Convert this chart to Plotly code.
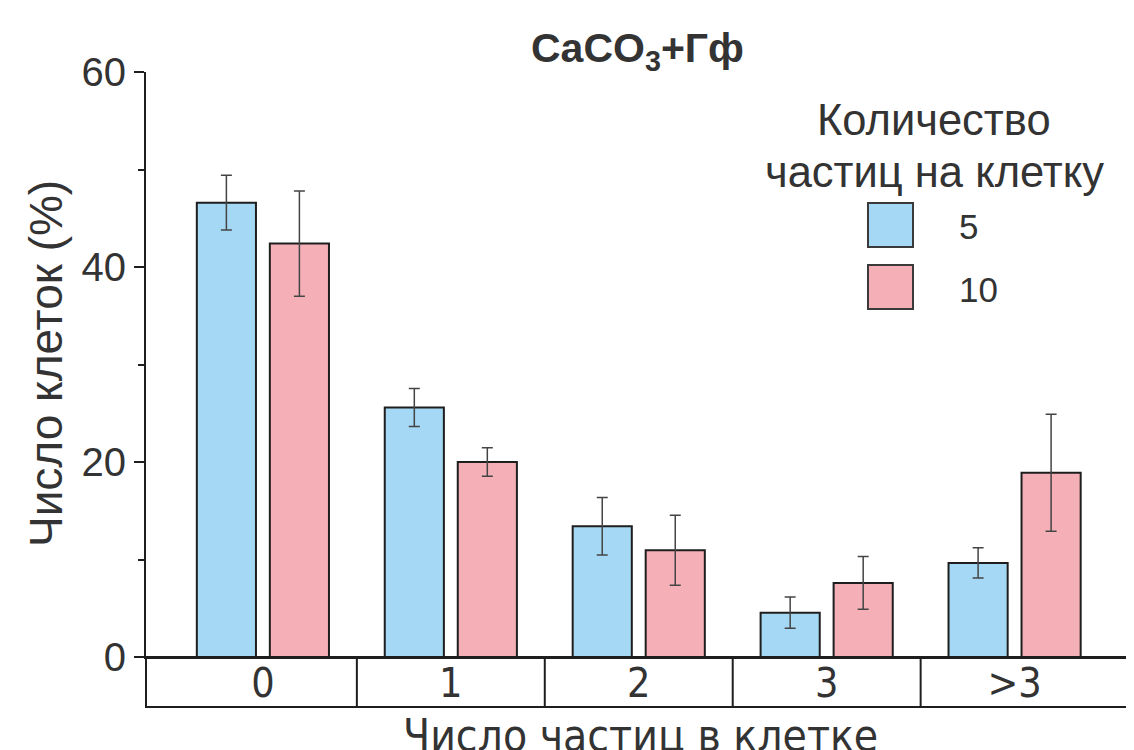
import plotly.graph_objects as go

categories = ["0", "1", "2", "3", ">3"]
series_names = ["5", "10"]
vals_5 = [46.6, 25.6, 13.4, 4.55, 9.65]
err_5 = [2.8, 1.95, 2.95, 1.6, 1.55]
vals_10 = [42.4, 20.0, 10.95, 7.6, 18.9]
err_10 = [5.4, 1.45, 3.6, 2.7, 6.0]
y_tickvals = [0, 20, 40, 60]

colors = ["#a4d8f4", "#f4b0b6"]
edge = "#1e1e1e"
txt = "#333333"

# figure is drawn with an 8px page margin; positions below are page pixels
OFF = 8
W, H = 1134, 750
L, R, T, B = 138, 9, 64, 101
PW, PH = W - L - R, H - T - B


def px(x):
    return (x - OFF - L) / PW


def py(y):
    return (H - B - (y - OFF)) / PH


NARROW = "Liberation Sans Narrow, Arial Narrow, DejaVu Sans Condensed, Liberation Sans, sans-serif"
REG = "Liberation Sans, Arial, sans-serif"

fig = go.Figure()
for name, vals, errs, col in [(series_names[0], vals_5, err_5, colors[0]),
                              (series_names[1], vals_10, err_10, colors[1])]:
    fig.add_trace(go.Bar(
        x=categories, y=vals, name=name,
        marker=dict(color=col, line=dict(color=edge, width=2)),
        error_y=dict(type="data", array=errs, visible=True,
                     color="#444444", thickness=1.5, width=5.5),
        showlegend=False,
    ))

fig.update_layout(
    width=W, height=H,
    margin=dict(l=L, r=R, t=T, b=B, autoexpand=False),
    paper_bgcolor="white", plot_bgcolor="white",
    barmode="group", bargap=0.223, bargroupgap=0.19,
    font=dict(family=REG, color=txt),
)

fig.update_yaxes(
    range=[0, 60], tickvals=y_tickvals, showgrid=False, zeroline=False,
    showline=True, linecolor=edge, linewidth=2,
    ticks="outside", ticklen=10, tickwidth=2, tickcolor=edge,
    tickfont=dict(size=40, color=txt, family=REG),
    minor=dict(tickvals=[10, 30, 50], ticks="outside", ticklen=6, tickwidth=2, tickcolor=edge),
)
fig.update_xaxes(
    range=[-0.622, 4.63], showgrid=False, zeroline=False,
    showline=True, linecolor=edge, linewidth=2, ticks="",
    ticklabelstandoff=-11,
    tickfont=dict(size=41, color=txt, family=NARROW),
)

# category box under the axis
box_bottom = py(707)
shapes = [dict(type="rect", xref="paper", yref="paper", x0=0, x1=1, y0=box_bottom, y1=0,
               line=dict(color=edge, width=2))]
for i in range(len(categories) - 1):
    shapes.append(dict(type="line", xref="x", yref="paper", x0=i + 0.5, x1=i + 0.5,
                       y0=box_bottom, y1=0, line=dict(color=edge, width=2)))

# legend swatches
for j, col in enumerate(colors):
    top = 203 + j * 62
    shapes.append(dict(type="rect", xref="paper", yref="paper",
                       x0=px(868), x1=px(913), y0=py(top + 44), y1=py(top),
                       fillcolor=col, line=dict(color="#3a3a3a", width=2)))
fig.update_layout(shapes=shapes)

ann = []
ann.append(dict(text="<b>CaCO<sub>3</sub>+Гф</b>", xref="paper", yref="paper",
                x=px(637), y=py(51), xanchor="center", yanchor="middle", showarrow=False,
                font=dict(size=41, color=txt, family=REG)))
ann.append(dict(text="Число клеток (%)", xref="paper", yref="paper", textangle=-90,
                x=px(46), y=py(364), xanchor="center", yanchor="middle", showarrow=False,
                font=dict(size=46, color=txt)))
ann.append(dict(text="Число частиц в клетке", xref="paper", yref="paper",
                x=px(640), y=py(735), xanchor="center", yanchor="middle", showarrow=False,
                font=dict(size=44, color=txt, family=NARROW)))
ann.append(dict(text="Количество", xref="paper", yref="paper",
                x=px(934), y=py(120), xanchor="center", yanchor="middle", showarrow=False,
                font=dict(size=43.5, color=txt)))
ann.append(dict(text="частиц на клетку", xref="paper", yref="paper",
                x=px(934), y=py(172), xanchor="center", yanchor="middle", showarrow=False,
                font=dict(size=43.5, color=txt)))
for j, name in enumerate(series_names):
    ann.append(dict(text=name, xref="paper", yref="paper",
                    x=px(957), y=py(227 + j * 62), xanchor="left", yanchor="middle", showarrow=False,
                    font=dict(size=35, color=txt)))
fig.update_layout(annotations=ann)

fig.write_html("out.html")
